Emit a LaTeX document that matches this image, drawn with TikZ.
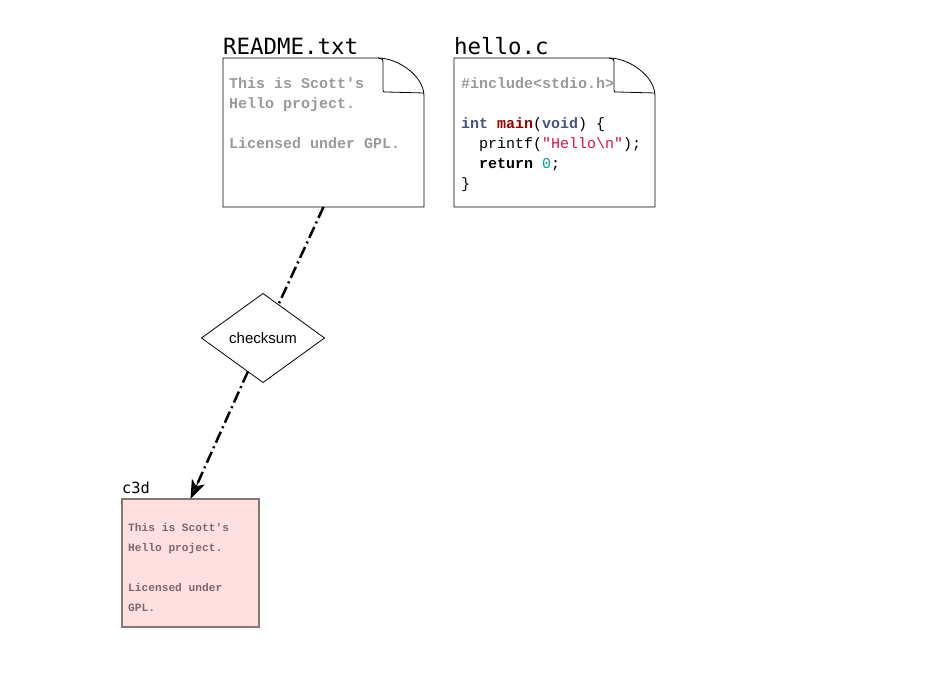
\documentclass[tikz,border=0pt]{standalone}
\usepackage{fontspec}
\usepackage{tikz}
\usetikzlibrary{arrows.meta}
\usetikzlibrary{calc}
\usetikzlibrary{shapes.geometric}

\newfontfamily\titlefont{DejaVu Sans Mono}
\newfontfamily\codefont{Liberation Mono}
\newfontfamily\labelfont{Liberation Sans}

\definecolor{commentgray}{HTML}{999999}
\definecolor{typeblue}{HTML}{445588}
\definecolor{funcred}{HTML}{990000}
\definecolor{stringred}{HTML}{DD1144}
\definecolor{numteal}{HTML}{009999}
\definecolor{blobpink}{HTML}{FFE0E0}
\definecolor{blobedge}{HTML}{877878}
\definecolor{blobtext}{HTML}{7D6868}

\begin{document}
\begin{tikzpicture}[x=1pt,y=-1pt]
	\useasboundingbox (0,0) rectangle (945,691);
	\begin{scope}[every node/.style={rectangle, inner sep=0pt, outer sep=0pt}]
		\node[minimum width=201pt, minimum height=149pt] (readme) at (323.5,132.5) {};
		\node[minimum width=201pt, minimum height=149pt] (hello) at (554.5,132.5) {};
		\node[draw=blobedge, line width=2pt, fill=blobpink, minimum width=137pt, minimum height=128pt] (c3d) at (190.5,563) {};
		\node[diamond, draw, line width=0.8pt, minimum width=123pt, minimum height=89pt, font=\labelfont\fontsize{15}{18}\selectfont] (checksum) at (263,338) {checksum};
	\end{scope}
	% dog-eared pages
	\foreach \d in {readme,hello} {
		\draw[line width=0.8pt] (\d.north west) -- ($(\d.north east)+(-46,0)$)
			.. controls ($(\d.north east)+(-26,0)$) and ($(\d.north east)+(0,18)$) .. ($(\d.north east)+(0,38)$)
			-- (\d.south east) -- (\d.south west) -- cycle;
		\draw[line width=0.8pt] ($(\d.north east)+(-46,0)$) .. controls ($(\d.north east)+(-41,1)$) .. ($(\d.north east)+(-41,7)$)
			-- ($(\d.north east)+(-41,32)$) .. controls ($(\d.north east)+(-41,34)$) .. ($(\d.north east)+(-37,34)$)
			-- ($(\d.north east)+(0,35)$);
	}
	\begin{scope}[every node/.style={inner sep=0pt, align=left}]
		\node[anchor=base west, font=\titlefont\fontsize{22.4}{26}\selectfont] (readmetitle) at (223,54) {README.txt};
		\node[anchor=base west, font=\titlefont\fontsize{22.4}{26}\selectfont] (hellotitle) at (454,54) {hello.c};
		\node[anchor=base west, font=\titlefont\fontsize{15.4}{18}\selectfont] (c3dtitle) at (122,493) {c3d};
		\node[anchor=north west, text=commentgray, font=\codefont\bfseries\fontsize{15}{20}\selectfont] (readmetext) at (229,77)
			{This is Scott's\\Hello project.\\[20pt]Licensed under GPL.};
		\node[anchor=north west, font=\codefont\fontsize{15}{20}\selectfont] (hellotext) at (461,77)
			{{\color{commentgray}\textbf{\#include<stdio.h>}}\\[20pt]
			{\color{typeblue}\textbf{int}} {\color{funcred}\textbf{main}}({\color{typeblue}\textbf{void}}) \{\\
			\hspace*{18pt}printf({\color{stringred}"Hello\textbackslash n"});\\
			\hspace*{18pt}\textbf{return} {\color{numteal}0};\\
			\}};
		\node[anchor=north west, text=blobtext, font=\codefont\bfseries\fontsize{11.2}{20}\selectfont] (c3dtext) at (128,523)
			{This is Scott's\\Hello project.\\[20pt]Licensed under\\GPL.};
	\end{scope}
	\coordinate (tipbase) at ($(c3d.north)!20pt!(checksum)$);
	\begin{scope}[>={Stealth[length=19pt, width=14pt, inset=5pt]},
	              every edge/.style={draw=black, line width=2.5pt, dash pattern=on 12pt off 4pt on 2pt off 4pt}]
		\path (readme.south) edge (checksum);
		\path (checksum) edge[shorten >=17pt] (c3d.north);
		\path (tipbase) edge[solid, line width=1pt, ->] (c3d.north);
	\end{scope}
\end{tikzpicture}
\end{document}
